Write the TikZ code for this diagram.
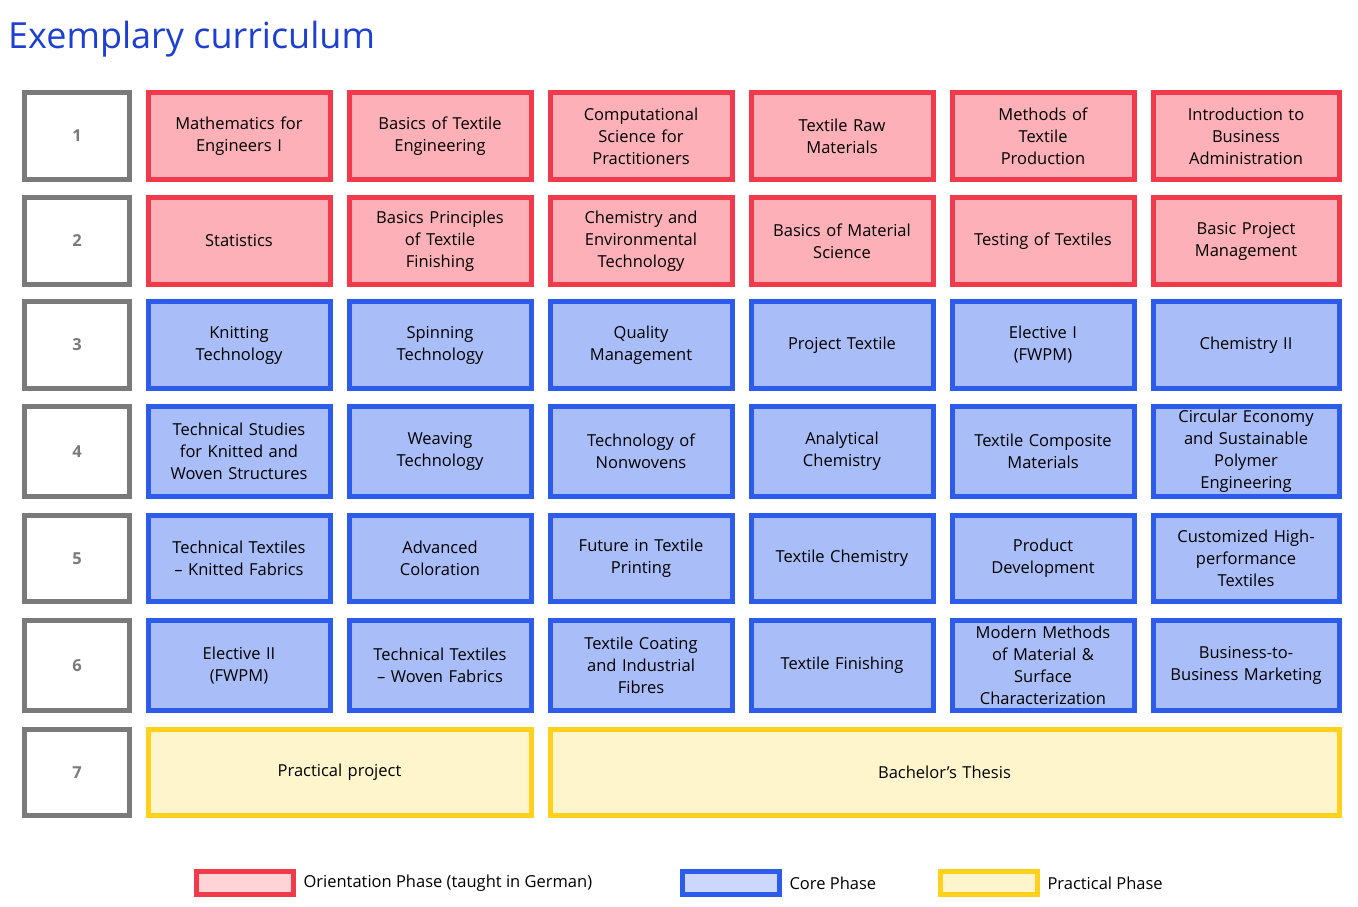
\documentclass[tikz,border=0pt]{standalone}
\usepackage{fontspec}
\setmainfont{Open Sans}
\definecolor{orientB}{HTML}{F23A4D}
\definecolor{orientF}{HTML}{FDB0B7}
\definecolor{coreB}{HTML}{2D5BEB}
\definecolor{coreF}{HTML}{A9BEF8}
\definecolor{pracB}{HTML}{FFD11A}
\definecolor{pracF}{HTML}{FFF5CC}
\definecolor{semB}{HTML}{7A7A7A}
\definecolor{titleC}{HTML}{1E40D2}
\tikzset{
  course/.style={draw, line width=5pt, align=center, inner sep=2pt,
    font=\fontsize{16.5}{22}\selectfont, text width=178pt},
  orient/.style={course, draw=orientB, fill=orientF},
  core/.style={course, draw=coreB, fill=coreF},
  prac/.style={course, draw=pracB, fill=pracF},
  sem/.style={draw=semB, line width=5pt, minimum width=105pt, text=semB,
    font=\fontsize{16.5}{22}\selectfont\bfseries},
  legbox/.style={line width=5pt, minimum width=97pt, minimum height=23pt},
  legtext/.style={anchor=west, font=\fontsize{16.5}{22}\selectfont}
}
\begin{document}
\begin{tikzpicture}[x=1pt, y=-1pt]
\useasboundingbox (0,0) rectangle (1358,906);

% title
\node[anchor=base west, inner sep=0, text=titleC, font=\fontsize{36}{40}\selectfont] (title) at (8,48) {Exemplary curriculum};

% semester column
\foreach \r/\y/\h in {1/136/87, 2/241/87, 3/345/87, 4/451.5/90, 5/558.5/86, 6/665.5/90, 7/772.5/86}
  \node[sem, minimum height=\h pt] (sem\r) at (77,\y) {\r};

% row 1
\node[orient, minimum height=87pt] (c11) at (239,136) {Mathematics for\\Engineers I};
\node[orient, minimum height=87pt] (c12) at (440,136) {Basics of Textile\\Engineering};
\node[orient, minimum height=87pt] (c13) at (641,136) {Computational\\Science for\\Practitioners};
\node[orient, minimum height=87pt] (c14) at (842,136) {Textile Raw\\Materials};
\node[orient, minimum height=87pt] (c15) at (1043,136) {Methods of\\Textile\\Production};
\node[orient, minimum height=87pt, text width=182pt] (c16) at (1246,136) {Introduction to\\Business\\Administration};

% row 2
\node[orient, minimum height=87pt] (c21) at (239,241) {Statistics};
\node[orient, minimum height=87pt] (c22) at (440,241) {Basics Principles\\of Textile\\Finishing};
\node[orient, minimum height=87pt] (c23) at (641,241) {Chemistry and\\Environmental\\Technology};
\node[orient, minimum height=87pt] (c24) at (842,241) {Basics of Material\\Science};
\node[orient, minimum height=87pt] (c25) at (1043,241) {Testing of Textiles};
\node[orient, minimum height=87pt, text width=182pt] (c26) at (1246,241) {Basic Project\\Management};

% row 3
\node[core, minimum height=87pt] (c31) at (239,345) {Knitting\\Technology};
\node[core, minimum height=87pt] (c32) at (440,345) {Spinning\\Technology};
\node[core, minimum height=87pt] (c33) at (641,345) {Quality\\Management};
\node[core, minimum height=87pt] (c34) at (842,345) {Project Textile};
\node[core, minimum height=87pt] (c35) at (1043,345) {Elective I\\(FWPM)};
\node[core, minimum height=87pt, text width=182pt] (c36) at (1246,345) {Chemistry II};

% row 4
\node[core, minimum height=90pt] (c41) at (239,451.5) {Technical Studies\\for Knitted and\\Woven Structures};
\node[core, minimum height=90pt] (c42) at (440,451.5) {Weaving\\Technology};
\node[core, minimum height=90pt] (c43) at (641,451.5) {Technology of\\Nonwovens};
\node[core, minimum height=90pt] (c44) at (842,451.5) {Analytical\\Chemistry};
\node[core, minimum height=90pt] (c45) at (1043,451.5) {Textile Composite\\Materials};
\node[core, minimum height=90pt, text width=182pt] (c46) at (1246,451.5) {Circular Economy\\and Sustainable\\Polymer\\Engineering};

% row 5
\node[core, minimum height=86pt] (c51) at (239,558.5) {Technical Textiles\\– Knitted Fabrics};
\node[core, minimum height=86pt] (c52) at (440,558.5) {Advanced\\Coloration};
\node[core, minimum height=86pt] (c53) at (641,558.5) {Future in Textile\\Printing};
\node[core, minimum height=86pt] (c54) at (842,558.5) {Textile Chemistry};
\node[core, minimum height=86pt] (c55) at (1043,558.5) {Product\\Development};
\node[core, minimum height=86pt, text width=182pt] (c56) at (1246,558.5) {Customized High-\\performance\\Textiles};

% row 6
\node[core, minimum height=90pt] (c61) at (239,665.5) {Elective II\\(FWPM)};
\node[core, minimum height=90pt] (c62) at (440,665.5) {Technical Textiles\\– Woven Fabrics};
\node[core, minimum height=90pt] (c63) at (641,665.5) {Textile Coating\\and Industrial\\Fibres};
\node[core, minimum height=90pt] (c64) at (842,665.5) {Textile Finishing};
\node[core, minimum height=90pt] (c65) at (1043,665.5) {Modern Methods\\of Material \&\\Surface\\Characterization};
\node[core, minimum height=90pt, text width=182pt] (c66) at (1246,665.5) {Business-to-\\Business Marketing};

% row 7
\node[prac, minimum height=86pt, text width=379pt] (c71) at (339.5,772.5) {Practical project};
\node[prac, minimum height=86pt, text width=785pt] (c72) at (944.5,772.5) {Bachelor’s Thesis};

% legend
\node[legbox, draw=orientB, fill=orientF!55] (leg1) at (245,883) {};
\node[legtext] (leg1t) at (leg1.east) [xshift=4pt] {Orientation Phase (taught in German)};
\node[legbox, draw=coreB, fill=coreF!60] (leg2) at (731,883) {};
\node[legtext] (leg2t) at (leg2.east) [xshift=4pt] {Core Phase};
\node[legbox, draw=pracB, fill=pracF] (leg3) at (989,883) {};
\node[legtext] (leg3t) at (leg3.east) [xshift=4pt] {Practical Phase};

\end{tikzpicture}
\end{document}
